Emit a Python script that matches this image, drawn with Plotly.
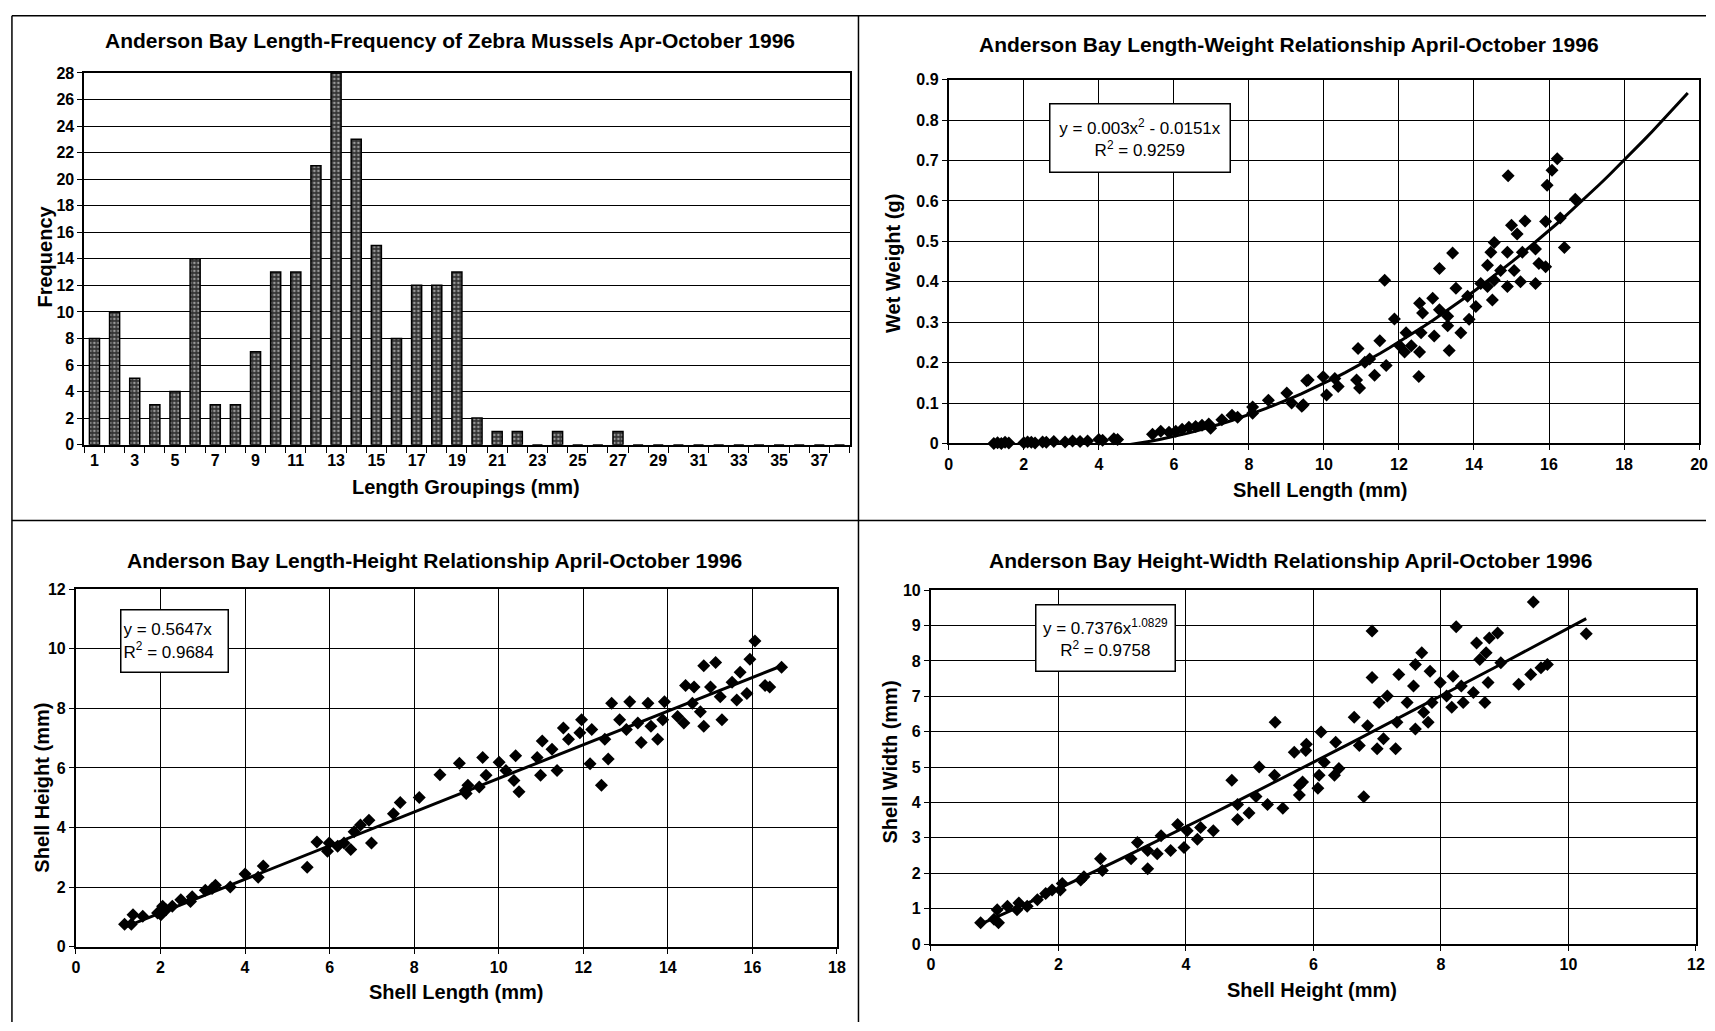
import plotly.graph_objects as go
import numpy as np

W_PX, H_PX = 1715, 1031

# ---------------- Data ----------------
# Panel 1: length-frequency histogram
hist_groups = list(range(1, 39))
hist_freq = [8, 10, 5, 3, 4, 14, 3, 3, 7, 13, 13, 21, 28, 23, 15, 8, 12, 12, 13,
             2, 1, 1, 0, 1, 0, 0, 1, 0, 0, 0, 0, 0, 0, 0, 0, 0, 0, 0]
hist_ticks = list(range(1, 38, 2))

# Panel 2: length-weight
lw_length = [1.2, 1.3, 1.4, 1.5, 1.6, 2.0, 2.1, 2.2, 2.3, 2.5, 2.6, 2.8, 3.1, 3.3, 3.5, 3.7, 4.0, 4.1, 4.4, 4.5,
             5.43, 5.65, 5.87, 6.05, 6.22, 6.40, 6.58, 6.75, 6.93, 6.98, 7.28, 7.55, 7.70, 8.10, 8.10, 8.52,
             9.01, 9.14, 9.41, 9.54, 9.58, 9.45, 10.29, 10.38, 9.98, 10.07, 10.87, 10.95, 10.91, 11.35, 11.09,
             11.22, 11.66, 11.49, 11.62, 11.88, 12.19, 12.02, 12.59, 12.55, 12.33, 12.15, 12.53, 12.90, 12.55,
             12.63, 13.08, 13.30, 12.94, 13.34, 13.08, 13.43, 13.52, 13.83, 14.05, 13.87, 13.65, 13.30,
             14.54, 14.45, 14.89, 15.29, 15.64, 15.73, 15.91, 14.36, 14.71, 15.07, 15.24, 15.64, 14.89,
             14.54, 14.36, 14.18, 14.49, 15.0, 15.15, 15.36, 15.91, 16.30, 16.41, 16.70, 14.91, 15.95,
             16.08, 16.22]
lw_weight = [0.0, 0.002, 0.0, 0.003, 0.001, 0.002, 0.004, 0.003, 0.001, 0.004, 0.003, 0.005, 0.004, 0.006,
             0.005, 0.006, 0.010, 0.008, 0.012, 0.010,
             0.023, 0.030, 0.028, 0.030, 0.035, 0.040, 0.042, 0.045, 0.048, 0.038, 0.059, 0.070, 0.065,
             0.090, 0.075, 0.107, 0.125, 0.100, 0.092, 0.155, 0.157, 0.096, 0.161, 0.141, 0.165, 0.120,
             0.157, 0.137, 0.235, 0.169, 0.201, 0.209, 0.193, 0.254, 0.404, 0.308, 0.274, 0.242, 0.274,
             0.226, 0.242, 0.226, 0.166, 0.359, 0.347, 0.323, 0.331, 0.315, 0.266, 0.230, 0.433, 0.471,
             0.384, 0.364, 0.339, 0.307, 0.274, 0.291,
             0.497, 0.473, 0.473, 0.473, 0.481, 0.445, 0.437, 0.441, 0.428, 0.428, 0.400, 0.396, 0.388,
             0.404, 0.388, 0.396, 0.355, 0.540, 0.518, 0.550, 0.549, 0.558, 0.485, 0.604, 0.662, 0.639,
             0.676, 0.704]
lw_coef = (0.003, -0.0151)
lw_trend_x = np.linspace(1.2, 19.7, 80)

# Panel 3: length-height
lh_length = [1.15, 1.35, 1.31, 1.58, 1.93, 2.05, 2.01, 2.13, 2.28, 2.48, 2.71, 2.75, 3.06, 3.22, 3.30, 3.65,
             4.00, 4.31, 4.43, 5.47, 5.70, 5.99, 5.95, 6.19, 6.50, 6.34, 6.58, 6.73, 6.93, 6.99, 7.51, 7.67,
             8.12, 8.61, 9.07, 9.21,
             9.27, 9.23, 9.54, 9.62, 9.70, 10.01, 10.17, 10.40, 10.36, 10.48, 10.91, 10.99, 11.03, 11.26,
             11.38, 11.53, 11.65, 11.96, 11.92, 12.20, 12.16, 12.43, 12.59, 12.51, 12.67, 12.86, 13.10,
             13.02, 13.29, 13.37, 13.53, 13.60, 13.76, 13.92, 13.88, 14.23, 14.42, 14.38, 14.62, 14.58,
             14.77, 14.85, 14.85, 15.13, 15.01, 15.24, 15.28, 15.52, 15.63, 15.71, 15.87, 15.94, 16.06,
             16.30, 16.41, 16.69]
lh_height = [0.75, 1.07, 0.75, 1.02, 1.13, 1.35, 1.07, 1.24, 1.35, 1.57, 1.51, 1.67, 1.89, 1.95, 2.06, 2.00,
             2.44, 2.33, 2.71, 2.66, 3.51, 3.48, 3.20, 3.37, 3.26, 3.48, 3.86, 4.08, 4.24, 3.48, 4.46, 4.84,
             5.01, 5.77, 6.16, 5.23,
             5.42, 5.14, 5.36, 6.35, 5.75, 6.19, 5.91, 6.41, 5.58, 5.20, 6.35, 5.75, 6.90, 6.63,
             5.91, 7.34, 6.96, 7.62, 7.18, 7.29, 6.14, 5.42, 6.30, 6.96, 8.17, 7.62, 8.22,
             7.29, 7.51, 6.85, 8.17, 7.40, 6.96, 8.22, 7.62, 7.73, 8.77, 7.51, 8.72, 8.17,
             7.89, 7.40, 9.43, 9.54, 8.72, 8.39, 7.62, 8.88, 8.28, 9.21, 8.50, 9.65, 10.26,
             8.77, 8.72, 9.38]
lh_slope = 0.5647
lh_trend_x = [1.2, 16.7]

# Panel 4: height-width
hw_height = [0.78, 0.99, 1.06, 1.04, 1.20, 1.35, 1.38, 1.51, 1.67, 1.80, 1.90, 2.03, 2.06, 2.35, 2.40, 2.66,
             2.69, 3.14, 3.24, 3.40, 3.40, 3.55, 3.61, 3.76, 3.87, 3.97, 4.02, 4.18, 4.23, 4.43, 4.72, 4.81,
             4.81, 4.99, 5.10, 5.15, 5.28, 5.39, 5.40, 5.52, 5.70, 5.78, 5.78, 5.89, 6.07,
             6.92, 6.79, 6.92, 5.83, 5.88, 6.12, 6.09, 6.17, 6.35, 6.33, 6.40, 6.64, 6.72, 6.85, 7.00, 7.03,
             7.10, 7.16, 7.29, 7.34, 7.31, 7.47, 7.57, 7.60, 7.70, 7.73, 7.60, 7.83, 7.86, 7.80, 7.99, 8.09,
             8.19, 8.24, 8.17, 8.32, 8.35, 8.51, 8.56, 8.61, 8.69, 8.74, 8.71, 8.76, 8.89, 8.94, 9.22, 9.41,
             9.45, 9.57, 9.67, 10.28]
hw_width = [0.60, 0.70, 0.60, 0.97, 1.07, 0.97, 1.16, 1.07, 1.25, 1.43, 1.53, 1.53, 1.71, 1.81, 1.90, 2.41,
            2.08, 2.41, 2.87, 2.64, 2.13, 2.55, 3.06, 2.64, 3.38, 2.73, 3.20, 2.96, 3.29, 3.20, 4.63, 3.94,
            3.52, 3.70, 4.17, 5.00, 3.94, 4.77, 6.27, 3.84, 5.42, 4.49, 4.21, 5.65, 4.40,
            8.85, 4.16, 7.53, 4.58, 5.47, 5.99, 4.77, 5.14, 5.70, 4.77, 4.96, 6.41, 5.61, 6.17, 5.52, 6.83,
            5.80, 7.01, 5.52, 7.62, 6.27, 6.83, 7.29, 7.90, 8.23, 6.55, 6.08, 7.71, 6.83, 6.27, 7.39, 7.01,
            7.57, 8.97, 6.69, 7.29, 6.83, 7.11, 8.51, 8.04, 6.83, 7.39, 8.23, 8.65, 8.79, 7.95, 7.34, 7.62,
            9.67, 7.81, 7.90, 8.77]
hw_coef = 0.7376
hw_exp = 1.0829
hw_trend_x = np.linspace(0.78, 10.28, 60)

# ---------------- Helpers ----------------
def px(x):
    return x / W_PX

def py(y):
    return 1 - y / H_PX

FONT = "Liberation Sans"
BLACK = "black"

fig = go.Figure()

fig.add_trace(go.Bar(
    x=hist_groups, y=hist_freq, width=0.5, xaxis="x", yaxis="y",
    marker=dict(color="#333333", line=dict(color=BLACK, width=1.5),
                pattern=dict(shape=".", fgcolor="white", bgcolor="#333333", size=4, solidity=0.35)),
    showlegend=False))

fig.add_trace(go.Scatter(
    x=lw_trend_x, y=lw_coef[0] * lw_trend_x ** 2 + lw_coef[1] * lw_trend_x,
    mode="lines", line=dict(color=BLACK, width=3), xaxis="x2", yaxis="y2", showlegend=False))
fig.add_trace(go.Scatter(
    x=lw_length, y=lw_weight, mode="markers", xaxis="x2", yaxis="y2", cliponaxis=False,
    marker=dict(symbol="diamond", size=10, color=BLACK), showlegend=False))

fig.add_trace(go.Scatter(
    x=lh_trend_x, y=[lh_slope * v for v in lh_trend_x],
    mode="lines", line=dict(color=BLACK, width=3), xaxis="x3", yaxis="y3", showlegend=False))
fig.add_trace(go.Scatter(
    x=lh_length, y=lh_height, mode="markers", xaxis="x3", yaxis="y3", cliponaxis=False,
    marker=dict(symbol="diamond", size=10, color=BLACK), showlegend=False))

fig.add_trace(go.Scatter(
    x=hw_trend_x, y=hw_coef * hw_trend_x ** hw_exp,
    mode="lines", line=dict(color=BLACK, width=3), xaxis="x4", yaxis="y4", showlegend=False))
fig.add_trace(go.Scatter(
    x=hw_height, y=hw_width, mode="markers", xaxis="x4", yaxis="y4", cliponaxis=False,
    marker=dict(symbol="diamond", size=10, color=BLACK), showlegend=False))

tickfont = dict(family=FONT, size=16, color=BLACK, weight="bold")

def axis(domain, rng, dtick, anchor, grid=True, **kw):
    d = dict(domain=domain, range=rng, dtick=dtick, anchor=anchor, showline=True, mirror=True,
             linecolor=BLACK, linewidth=2, showgrid=grid, gridcolor=BLACK, gridwidth=1.3,
             zeroline=False, ticks="outside", ticklen=5, tickcolor=BLACK, tickwidth=1.3,
             tickfont=tickfont, fixedrange=True)
    d.update(kw)
    return d

fig.update_layout(
    width=W_PX, height=H_PX, margin=dict(l=0, r=0, t=0, b=0),
    paper_bgcolor="white", plot_bgcolor="white", bargap=0.5,
    xaxis=axis([px(81), px(852)], [0.5, 38.5], None, "y", grid=False,
               tickmode="array", tickvals=hist_ticks, ticks="",
               minor=dict(tickmode="array", tickvals=[i + 0.5 for i in range(39)],
                          ticks="outside", ticklen=6, tickcolor=BLACK, tickwidth=1.3, showgrid=False)),
    yaxis=axis([py(444), py(66)], [0, 28], 2, "x"),
    xaxis2=axis([px(952), px(1708)], [0, 20], 2, "y2"),
    yaxis2=axis([py(442.8), py(72.8)], [0, 0.9], 0.1, "x2"),
    xaxis3=axis([px(72.5), px(839.3)], [0, 18], 2, "y3"),
    yaxis3=axis([py(954.3), py(591)], [0, 12], 2, "x3"),
    xaxis4=axis([px(934), px(1704.8)], [0, 12], 2, "y4"),
    yaxis4=axis([py(951.7), py(592)], [0, 10], 1, "x4"),
)

titlefont = dict(family=FONT, size=21, color=BLACK, weight="bold")
axtitlefont = dict(family=FONT, size=20, color=BLACK, weight="bold")
annots = []

def text(x, y, s, font, angle=0):
    annots.append(dict(x=px(x), y=py(y), xref="paper", yref="paper", text=s, showarrow=False,
                       font=font, textangle=angle, xanchor="center", yanchor="middle"))

text(449, 33, "Anderson Bay Length-Frequency of Zebra Mussels Apr-October 1996", titlefont)
text(1295, 37, "Anderson Bay Length-Weight Relationship April-October 1996", titlefont)
text(434, 562, "Anderson Bay Length-Height Relationship April-October 1996", titlefont)
text(1296, 562, "Anderson Bay Height-Width Relationship April-October 1996", titlefont)

text(466, 487, "Length Groupings (mm)", axtitlefont)
text(1326, 490, "Shell Length (mm)", axtitlefont)
text(455, 1000, "Shell Length (mm)", axtitlefont)
text(1318, 998, "Shell Height (mm)", axtitlefont)

text(41, 253, "Frequency", axtitlefont, -90)
text(896, 260, "Wet Weight (g)", axtitlefont, -90)
text(38, 793, "Shell Height (mm)", axtitlefont, -90)
text(893, 767, "Shell Width (mm)", axtitlefont, -90)

eqfont = dict(family=FONT, size=17, color=BLACK)

def eqbox(left, top, w, h, s, align):
    annots.append(dict(x=px(left), y=py(top), xref="paper", yref="paper", text=s, showarrow=False,
                       font=eqfont, xanchor="left", yanchor="top", align=align, valign="middle",
                       width=w - 7, height=h - 7, bgcolor="white", bordercolor=BLACK,
                       borderwidth=1.5, borderpad=2))

eqbox(1053, 97, 182, 70, "y = 0.003x<sup>2</sup> - 0.0151x<br>R<sup>2</sup> = 0.9259", "center")
eqbox(117, 611, 109, 64, "y = 0.5647x<br>R<sup>2</sup> = 0.9684", "left")
eqbox(1039, 606, 141, 68, "y = 0.7376x<sup>1.0829</sup><br>R<sup>2</sup> = 0.9758", "center")

fig.update_layout(annotations=annots)

# panel borders
shapes = []
def line(x0, y0, x1, y1):
    shapes.append(dict(type="line", xref="paper", yref="paper", x0=px(x0), y0=py(y0),
                       x1=px(x1), y1=py(y1), line=dict(color=BLACK, width=1.5)))

line(8, 8, W_PX, 8)
line(8, 8, 8, H_PX)
line(861, 8, 861, H_PX)
line(8, 521, W_PX, 521)
fig.update_layout(shapes=shapes)

fig.write_html("out.html")
